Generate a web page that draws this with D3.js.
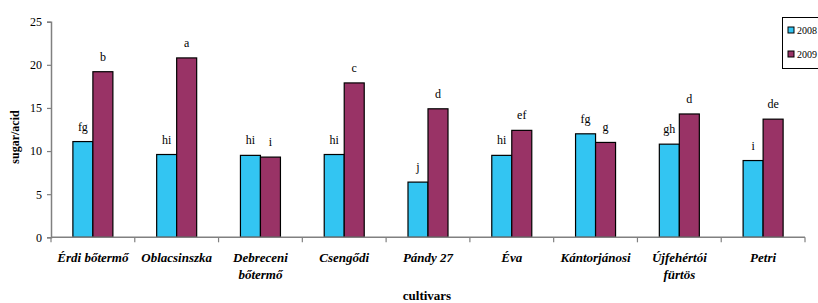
<!DOCTYPE html>
<html><head><meta charset="utf-8">
<script src="https://cdn.jsdelivr.net/npm/d3@7"></script>
</head><body style="margin:0;background:#fff">
<svg id="chart" width="818" height="303" style="display:block"></svg>
<script>
const categories = [["Érdi bőtermő"],["Oblacsinszka"],["Debreceni","bőtermő"],["Csengődi"],["Pándy 27"],["Éva"],["Kántorjánosi"],["Újfehértói","fürtös"],["Petri"]];
const series = ["2008","2009"];
const values2008 = [11.1, 9.6, 9.5, 9.6, 6.4, 9.5, 12.0, 10.8, 8.9];
const values2009 = [19.2, 20.8, 9.3, 17.9, 14.9, 12.4, 11.0, 14.3, 13.7];
const letters2008 = ["fg","hi","hi","hi","j","hi","fg","gh","i"];
const letters2009 = ["b","a","i","c","d","ef","g","d","de"];
const yTicks = [0,5,10,15,20,25];
const colors = ["#33c5f2","#993366"];

(function(){
const FF = "'Liberation Serif', serif";
const svg = d3.select("#chart").style("font-family", FF, "important");
const mL = 51, mR = 805, mT = 21.7, mB = 237.3;
const x0 = d3.scaleBand().domain(d3.range(categories.length)).range([mL, mR]).paddingInner(0).paddingOuter(0);
const x1 = d3.scaleBand().domain(series).range([x0.bandwidth()/2 - 20, x0.bandwidth()/2 + 20]);
const y = d3.scaleLinear().domain([0,25]).range([mB, mT]);

const data = categories.map((c,i)=>({i, vals:[values2008[i], values2009[i]], lets:[letters2008[i], letters2009[i]]}));
const g = svg.selectAll("g.cat").data(data).join("g").attr("class","cat")
  .attr("transform", d=>`translate(${x0(d.i)},0)`);
g.selectAll("rect").data(d=>series.map((s,k)=>({s,k,v:d.vals[k]}))).join("rect")
  .attr("x", d=>x1(d.s)).attr("width", x1.bandwidth())
  .attr("y", d=>y(d.v)).attr("height", d=>mB - y(d.v))
  .attr("fill", d=>colors[d.k]).attr("stroke","#000").attr("stroke-width",1.2);
g.selectAll("text.let").data(d=>series.map((s,k)=>({s,k,v:d.vals[k],l:d.lets[k]}))).join("text").attr("class","let")
  .attr("x", d=>x1(d.s)+x1.bandwidth()/2).attr("y", d=>y(d.v)-11)
  .attr("text-anchor","middle").attr("font-size",12).attr("fill","#000").text(d=>d.l);

const yAxis = d3.axisLeft(y).tickValues(yTicks).tickSize(4).tickPadding(5);
const ya = svg.append("g").attr("transform",`translate(${mL},0)`).call(yAxis);
ya.select(".domain").attr("stroke","#808080").attr("stroke-width",1.5);
ya.selectAll(".tick line").attr("stroke","#808080").attr("stroke-width",1.2);
ya.selectAll(".tick text").attr("font-size",12).attr("fill","#000");

const tickPos = d3.range(categories.length+1).map(i=>mL + i*x0.bandwidth());
const xa = svg.append("g");
xa.append("line").attr("x1",mL).attr("x2",mR).attr("y1",mB).attr("y2",mB).attr("stroke","#808080").attr("stroke-width",1.5);
xa.selectAll("line.tk").data(tickPos).join("line").attr("class","tk")
  .attr("x1",d=>d).attr("x2",d=>d).attr("y1",mB).attr("y2",mB+5).attr("stroke","#808080").attr("stroke-width",1.2);
const labs = svg.selectAll("text.catl").data(categories).join("text").attr("class","catl")
  .attr("x",(d,i)=>x0(i)+x0.bandwidth()/2).attr("y",262)
  .attr("text-anchor","middle").attr("font-size",13).attr("font-weight","bold").attr("font-style","italic");
labs.selectAll("tspan").data(d=>d).join("tspan").attr("x",function(){return this.parentNode.getAttribute("x");})
  .attr("dy",(d,j)=>j===0?0:17).text(d=>d);

svg.append("text").attr("x",427).attr("y",300).attr("text-anchor","middle").attr("font-size",13).attr("font-weight","bold").text("cultivars");
svg.append("text").attr("transform","translate(19,137) rotate(-90)").attr("text-anchor","middle").attr("font-size",12).attr("font-weight","bold").text("sugar/acid");

const lg = svg.append("g");
lg.append("rect").attr("x",782.5).attr("y",17.5).attr("width",60).attr("height",51).attr("fill","#fff").attr("stroke","#000").attr("stroke-width",1);
lg.selectAll("rect.sw").data(series).join("rect").attr("class","sw")
  .attr("x",788).attr("y",(d,i)=>27+i*24).attr("width",6).attr("height",6)
  .attr("fill",(d,i)=>colors[i]).attr("stroke","#000").attr("stroke-width",1);
lg.selectAll("text.lt").data(series).join("text").attr("class","lt").attr("x",797).attr("y",(d,i)=>34+i*24)
  .attr("font-size",10).text(d=>d);

svg.selectAll("text").style("font-family", FF, "important");
})();
</script>
</body></html>
